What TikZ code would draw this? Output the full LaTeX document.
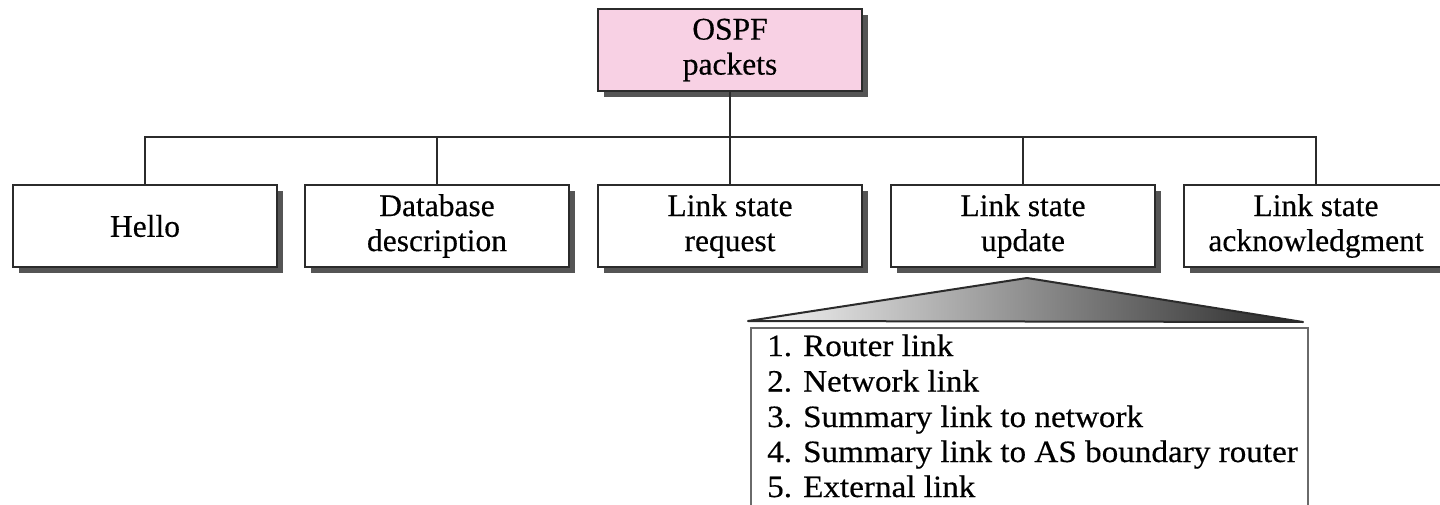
\documentclass[tikz,border=0pt]{standalone}
\usepackage{fontspec}
\setmainfont{Liberation Serif}[FakeBold=0.4]
\newfontfamily\listfont{Liberation Serif}[FakeStretch=1.07,FakeBold=0.4]
\usetikzlibrary{shadows,calc}
\definecolor{pinkfill}{HTML}{F8D1E4}
\definecolor{edge}{HTML}{2B2B2B}
\definecolor{shade}{HTML}{555555}
\definecolor{listedge}{HTML}{6A6A6A}
\tikzset{
  pbox/.style={draw=edge, line width=2.4pt, fill=white, minimum width=264pt, minimum height=82pt,
    inner sep=0pt, align=center, font=\fontsize{31.5}{35}\selectfont,
    drop shadow={shadow xshift=6pt, shadow yshift=-6pt, fill=shade, opacity=1}},
  conn/.style={draw=edge, line width=2.8pt},
  item/.style={anchor=base west, inner sep=0pt, font=\listfont\fontsize{31}{35}\selectfont}
}
\begin{document}
\begin{tikzpicture}[x=1pt,y=-1pt]
\useasboundingbox (0,0) rectangle (1440,505);
\clip (0,0) rectangle (1440,505);
% nodes
\node[pbox, fill=pinkfill] (top) at (730,50) {OSPF\\packets};
\node[pbox] (hello) at (145,226) {Hello};
\node[pbox] (db) at (437,226) {Database\\description};
\node[pbox] (req) at (730,226) {Link state\\request};
\node[pbox] (upd) at (1023,226) {Link state\\update};
\node[pbox] (ack) at (1316,226) {Link state\\acknowledgment};
% connectors
\coordinate (bus) at (730,137);
\draw[conn] (top.south) -- (req.north);
\draw[conn] (hello.north) |- (bus) -| (ack.north);
\draw[conn] (db.north) -- (db.north |- bus);
\draw[conn] (upd.north) -- (upd.north |- bus);
% expansion triangle
\coordinate (apex) at (1027,278);
\coordinate (bl) at (748,321);
\coordinate (br) at (1303,322);
\shade[left color=gray!5, right color=black!85] (bl) -- (apex) -- (br) -- cycle;
\draw[edge, line width=2pt, line join=round] (bl) -- (apex) -- (br) -- cycle;
% list box
\node[draw=listedge, line width=2.2pt, fill=white, minimum width=557pt, minimum height=220pt,
  anchor=north west, inner sep=0pt] (list) at (750,327) {};
\node[item] (l1) at (767,356) {1. Router link};
\node[item] (l2) at (767,391.5) {2. Network link};
\node[item] (l3) at (767,427) {3. Summary link to network};
\node[item] (l4) at (767,462) {4. Summary link to AS boundary router};
\node[item] (l5) at (767,497) {5. External link};
\end{tikzpicture}
\end{document}
